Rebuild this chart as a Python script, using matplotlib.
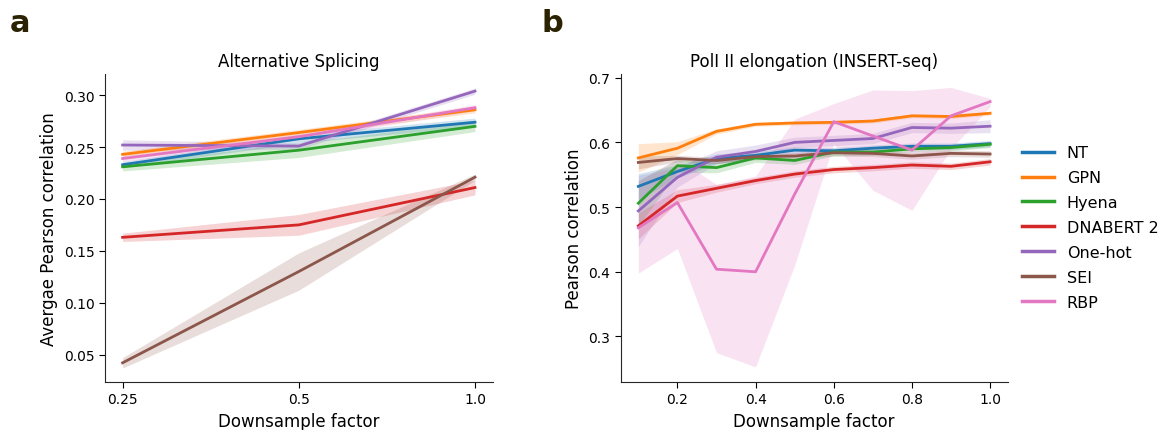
import numpy as np
import matplotlib
matplotlib.use("Agg")
from matplotlib import pyplot as plt

# ---- data ----
models = ["NT", "GPN", "Hyena", "DNABERT 2", "One-hot", "SEI", "RBP"]
colors = ["#1f77b4", "#ff7f0e", "#2ca02c", "#d62728", "#9467bd", "#8c564b", "#e377c2"]

# panel a: alternative splicing
x_a = [0.25, 0.5, 1.0]
mean_a = {
    "NT":        [0.233, 0.258, 0.274],
    "GPN":       [0.243, 0.264, 0.286],
    "Hyena":     [0.231, 0.247, 0.270],
    "DNABERT 2": [0.163, 0.175, 0.211],
    "One-hot":   [0.252, 0.251, 0.304],
    "SEI":       [0.042, 0.130, 0.221],
    "RBP":       [0.239, 0.260, 0.288],
}
err_a = {
    "NT":        [0.003, 0.004, 0.004],
    "GPN":       [0.003, 0.003, 0.003],
    "Hyena":     [0.004, 0.007, 0.005],
    "DNABERT 2": [0.004, 0.010, 0.007],
    "One-hot":   [0.005, 0.003, 0.003],
    "SEI":       [0.005, 0.018, 0.003],
    "RBP":       [0.003, 0.003, 0.003],
}

# panel b: Pol II elongation
x_b = [0.1, 0.2, 0.3, 0.4, 0.5, 0.6, 0.7, 0.8, 0.9, 1.0]
mean_b = {
    "NT":        [0.532, 0.555, 0.575, 0.580, 0.588, 0.587, 0.591, 0.594, 0.594, 0.598],
    "GPN":       [0.576, 0.591, 0.617, 0.628, 0.630, 0.631, 0.633, 0.641, 0.640, 0.645],
    "Hyena":     [0.506, 0.564, 0.561, 0.576, 0.572, 0.585, 0.585, 0.590, 0.592, 0.597],
    "DNABERT 2": [0.471, 0.517, 0.529, 0.541, 0.551, 0.558, 0.561, 0.565, 0.563, 0.570],
    "One-hot":   [0.494, 0.546, 0.577, 0.586, 0.600, 0.603, 0.606, 0.623, 0.622, 0.625],
    "SEI":       [0.569, 0.575, 0.572, 0.578, 0.579, 0.584, 0.583, 0.579, 0.583, 0.582],
    "RBP":       [0.468, 0.507, 0.404, 0.400, 0.520, 0.632, 0.610, 0.588, 0.641, 0.663],
}
err_b = {
    "NT":        [0.020, 0.010, 0.007, 0.006, 0.005, 0.005, 0.005, 0.005, 0.005, 0.005],
    "GPN":       [0.022, 0.010, 0.004, 0.003, 0.003, 0.003, 0.003, 0.003, 0.003, 0.003],
    "Hyena":     [0.035, 0.010, 0.008, 0.007, 0.006, 0.006, 0.005, 0.005, 0.005, 0.005],
    "DNABERT 2": [0.020, 0.010, 0.006, 0.005, 0.005, 0.005, 0.005, 0.005, 0.005, 0.005],
    "One-hot":   [0.055, 0.015, 0.010, 0.010, 0.008, 0.008, 0.008, 0.008, 0.008, 0.010],
    "SEI":       [0.010, 0.005, 0.005, 0.005, 0.005, 0.005, 0.005, 0.005, 0.005, 0.005],
}
rbp_lo = [0.398, 0.436, 0.275, 0.253, 0.410, 0.598, 0.526, 0.495, 0.590, 0.655]
rbp_hi = [0.540, 0.575, 0.535, 0.548, 0.636, 0.660, 0.681, 0.680, 0.685, 0.668]

# ---- figure ----
plt.rcParams["font.family"] = "DejaVu Sans"
plt.rcParams["axes.edgecolor"] = "0.15"
fig = plt.figure(figsize=(11.69, 4.31), dpi=100)
ax_a = fig.add_axes([0.0898, 0.1114, 0.3316, 0.7146])
ax_b = fig.add_axes([0.5310, 0.1114, 0.3310, 0.7146])

# ---- panel a ----
for name, c in zip(models, colors):
    m = np.array(mean_a[name])
    e = np.array(err_a[name])
    ax_a.fill_between(x_a, m - e, m + e, color=c, alpha=0.2, linewidth=0)
    ax_a.plot(x_a, m, color=c, lw=2, label=name)
ax_a.set_xscale("log")
ax_a.set_xticks(x_a)
ax_a.set_xticklabels(["0.25", "0.5", "1.0"])
ax_a.minorticks_off()
ax_a.set_yticks([0.05, 0.10, 0.15, 0.20, 0.25, 0.30])
ax_a.set_yticklabels(["0.05", "0.10", "0.15", "0.20", "0.25", "0.30"])
ax_a.set_title("Alternative Splicing", fontsize=12)
ax_a.set_xlabel("Downsample factor", fontsize=12)
ax_a.set_ylabel("Avergae Pearson correlation", fontsize=12)

# ---- panel b ----
for name, c in zip(models, colors):
    m = np.array(mean_b[name])
    if name == "RBP":
        lo, hi = np.array(rbp_lo), np.array(rbp_hi)
    else:
        lo, hi = m - np.array(err_b[name]), m + np.array(err_b[name])
    ax_b.fill_between(x_b, lo, hi, color=c, alpha=0.2, linewidth=0)
    ax_b.plot(x_b, m, color=c, lw=2, label=name)
ax_b.set_xticks([0.2, 0.4, 0.6, 0.8, 1.0])
ax_b.set_yticks([0.3, 0.4, 0.5, 0.6, 0.7])
ax_b.set_ylim(0.2297, 0.7057)
ax_b.set_title("PolI II elongation (INSERT-seq)", fontsize=12)
ax_b.set_xlabel("Downsample factor", fontsize=12)
ax_b.set_ylabel("Pearson correlation", fontsize=12)

for ax in (ax_a, ax_b):
    ax.spines["top"].set_visible(False)
    ax.spines["right"].set_visible(False)
    ax.tick_params(labelsize=10, length=4)

leg = ax_b.legend(loc="center left", bbox_to_anchor=(0.8688, 0.470),
                  bbox_transform=fig.transFigure, frameon=False, fontsize=11.5,
                  borderaxespad=0, labelspacing=0.62)
for h in leg.get_lines():
    h.set_linewidth(2.5)

fig.text(0.008, 0.925, "a", fontsize=22, fontweight="bold", color="#2a2200")
fig.text(0.463, 0.925, "b", fontsize=22, fontweight="bold", color="#2a2200")

fig.savefig("out.png", dpi=100)
